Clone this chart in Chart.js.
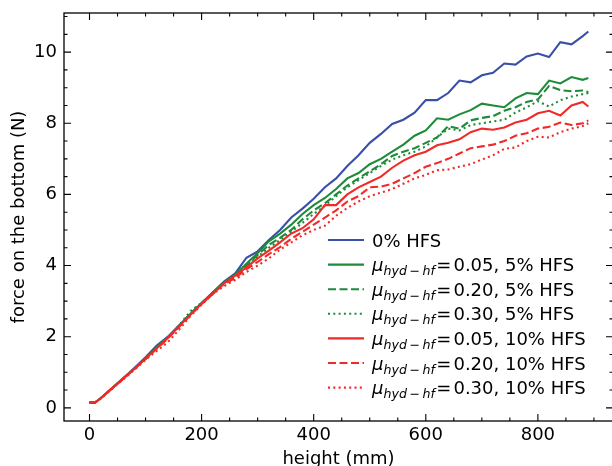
<!DOCTYPE html>
<html>
<head>
<meta charset="utf-8">
<script src="https://cdn.jsdelivr.net/npm/chart.js@4.4.0/dist/chart.umd.min.js"></script>
<style>
  html, body { margin: 0; padding: 0; background: #fff; overflow: hidden; }
  #wrap { position: relative; width: 614px; height: 476px; }
</style>
</head>
<body>
<div id="wrap"><canvas id="force-chart"></canvas></div>
<script>
/* force on the bottom vs height - 7 runs */

const heights = [0, 10, 20, 40, 60, 80, 100, 120, 140, 160, 180, 200, 220,
  240, 260, 280, 300, 320, 340, 360, 380, 400, 420, 440, 460, 480, 500, 520, 540,
  560, 580, 600, 620, 640, 660, 680, 700, 720, 740, 760, 780, 800, 820, 840, 860, 880, 890];

const hfs0 = [0.15, 0.15, 0.27, 0.55, 0.83, 1.12, 1.42, 1.75, 2.0, 2.32, 2.63, 2.95, 3.25,
  3.55, 3.78, 4.22, 4.4, 4.72, 5.0, 5.35, 5.6, 5.88, 6.2, 6.45, 6.8, 7.1, 7.45, 7.7, 7.98,
  8.1, 8.3, 8.65, 8.65, 8.85, 9.2, 9.15, 9.35, 9.42, 9.68, 9.65, 9.88, 9.96, 9.86, 10.28, 10.22, 10.45, 10.58];

const mu05hfs5 = [0.15, 0.15, 0.27, 0.55, 0.82, 1.1, 1.39, 1.7, 1.99, 2.3, 2.64, 2.94, 3.23,
  3.52, 3.75, 4.05, 4.35, 4.68, 4.9, 5.15, 5.45, 5.7, 5.9, 6.15, 6.45, 6.6, 6.85, 7.0, 7.2,
  7.4, 7.65, 7.8, 8.14, 8.1, 8.25, 8.37, 8.55, 8.5, 8.45, 8.7, 8.85, 8.82, 9.2, 9.12, 9.3, 9.22, 9.27];

const mu20hfs5 = [0.15, 0.15, 0.27, 0.55, 0.82, 1.1, 1.38, 1.69, 1.98, 2.3, 2.65, 2.94, 3.22,
  3.52, 3.72, 4.0, 4.3, 4.58, 4.78, 5.0, 5.3, 5.55, 5.75, 6.0, 6.25, 6.45, 6.65, 6.85, 7.08,
  7.2, 7.3, 7.45, 7.6, 7.92, 7.85, 8.08, 8.15, 8.2, 8.35, 8.45, 8.6, 8.67, 9.05, 8.93, 8.9, 8.92, 8.88];

const mu30hfs5 = [0.15, 0.15, 0.27, 0.55, 0.82, 1.1, 1.38, 1.68, 1.98, 2.32, 2.72, 2.95, 3.22,
  3.5, 3.68, 3.95, 4.25, 4.5, 4.72, 4.95, 5.2, 5.45, 5.68, 5.95, 6.2, 6.4, 6.6, 6.8, 6.98,
  7.1, 7.2, 7.35, 7.6, 7.85, 7.8, 7.95, 8.0, 8.05, 8.1, 8.3, 8.45, 8.62, 8.47, 8.65, 8.75, 8.82, 8.85];

const mu05hfs10 = [0.15, 0.15, 0.27, 0.55, 0.82, 1.1, 1.38, 1.68, 1.97, 2.29, 2.62, 2.93, 3.21,
  3.5, 3.72, 3.95, 4.2, 4.42, 4.65, 4.9, 5.05, 5.3, 5.7, 5.7, 6.0, 6.2, 6.35, 6.5, 6.75,
  6.95, 7.1, 7.2, 7.38, 7.45, 7.55, 7.75, 7.85, 7.82, 7.88, 8.02, 8.1, 8.28, 8.35, 8.22, 8.5, 8.6, 8.47];

const mu20hfs10 = [0.15, 0.15, 0.27, 0.54, 0.81, 1.09, 1.37, 1.66, 1.95, 2.28, 2.6, 2.92, 3.2,
  3.48, 3.65, 3.9, 4.1, 4.32, 4.52, 4.75, 4.95, 5.15, 5.35, 5.55, 5.8, 5.95, 6.2, 6.22, 6.3,
  6.45, 6.6, 6.78, 6.88, 7.0, 7.15, 7.3, 7.35, 7.4, 7.5, 7.65, 7.72, 7.85, 7.9, 8.02, 7.95, 8.0, 8.08];

const mu30hfs10 = [0.15, 0.15, 0.26, 0.53, 0.8, 1.07, 1.35, 1.6, 1.85, 2.2, 2.58, 2.9, 3.2,
  3.42, 3.6, 3.82, 4.0, 4.2, 4.45, 4.65, 4.85, 5.0, 5.12, 5.4, 5.62, 5.8, 5.95, 6.05, 6.15,
  6.3, 6.45, 6.55, 6.68, 6.7, 6.78, 6.85, 6.98, 7.1, 7.28, 7.32, 7.5, 7.62, 7.6, 7.75, 7.85, 7.92, 8.0];

const muValues = [null, '0.05', '0.20', '0.30', '0.05', '0.20', '0.30'];
const hfsValues = ['0%', '5%', '5%', '5%', '10%', '10%', '10%'];
const xTicks = [0, 200, 400, 600, 800];
const yTicks = [0, 2, 4, 6, 8, 10];

const BLUE = '#3a4fa8';
const GREEN = '#1e8a3a';
const RED = '#f02a28';
const SOLID = [];
const DASHED = [8, 3.5];
const DOTTED = [2, 3.3];
const FONT = 'DejaVu Sans';

const series = [
  { values: hfs0, color: BLUE, dash: SOLID },
  { values: mu05hfs5, color: GREEN, dash: SOLID },
  { values: mu20hfs5, color: GREEN, dash: DASHED },
  { values: mu30hfs5, color: GREEN, dash: DOTTED },
  { values: mu05hfs10, color: RED, dash: SOLID },
  { values: mu20hfs10, color: RED, dash: DASHED },
  { values: mu30hfs10, color: RED, dash: DOTTED }
];

function labelFor(i) {
  return muValues[i] === null
    ? `${hfsValues[i]} HFS`
    : `μ_hyd−hf = ${muValues[i]}, ${hfsValues[i]} HFS`;
}

// inward ticks on all four sides + frame, like the original plot
const frameTicks = {
  id: 'frameTicks',
  afterDraw(chart) {
    const { ctx, chartArea: a, scales: { x, y } } = chart;
    ctx.save();
    ctx.strokeStyle = '#000';
    ctx.lineWidth = 1.3;
    ctx.setLineDash([]);
    ctx.strokeRect(a.left, a.top, a.right - a.left, a.bottom - a.top);

    ctx.lineWidth = 1.1;
    ctx.beginPath();
    for (let v = 0; v <= x.max; v += 50) {
      const px = x.getPixelForValue(v);
      const len = v % 200 === 0 ? 7 : 3.5;
      ctx.moveTo(px, a.bottom); ctx.lineTo(px, a.bottom - len);
      ctx.moveTo(px, a.top); ctx.lineTo(px, a.top + len);
    }
    for (let k = 0; k * 0.5 <= y.max; k++) {
      const py = y.getPixelForValue(k * 0.5);
      const len = k % 4 === 0 ? 7 : 3.5;
      ctx.moveTo(a.left, py); ctx.lineTo(a.left + len, py);
      ctx.moveTo(a.right, py); ctx.lineTo(a.right - len, py);
    }
    ctx.stroke();
    ctx.restore();
  }
};

// legend with the mu subscript, drawn inside the plot
const mathLegend = {
  id: 'mathLegend',
  afterDraw(chart) {
    const { ctx, chartArea: a } = chart;
    const x0 = a.left + 264;
    const y0 = a.top + 227;
    const rowH = 24.6;
    ctx.save();
    chart.data.datasets.forEach((ds, i) => {
      const y = y0 + i * rowH;
      ctx.strokeStyle = ds.borderColor;
      ctx.lineWidth = 2.1;
      ctx.setLineDash(ds.borderDash);
      ctx.beginPath();
      ctx.moveTo(x0, y);
      ctx.lineTo(x0 + 36, y);
      ctx.stroke();

      const base = y + 6.5;
      let tx = x0 + 44;
      ctx.fillStyle = '#000';
      ctx.textBaseline = 'alphabetic';
      ctx.textAlign = 'left';
      if (muValues[i] === null) {
        ctx.font = `18px "${FONT}"`;
        ctx.fillText(`${hfsValues[i]} HFS`, tx, base);
        return;
      }
      ctx.font = `italic 18px "${FONT}"`;
      ctx.fillText('μ', tx, base);
      tx += ctx.measureText('μ').width;
      ctx.font = `italic 12.6px "${FONT}"`;
      ctx.fillText('hyd', tx, base + 4);
      tx += ctx.measureText('hyd').width + 2.5;
      ctx.font = `12.6px "${FONT}"`;
      ctx.fillText('−', tx, base + 4);
      tx += ctx.measureText('−').width + 2.5;
      ctx.font = `italic 12.6px "${FONT}"`;
      ctx.fillText('hf', tx, base + 4);
      tx += ctx.measureText('hf').width + 1.5;
      ctx.font = `18px "${FONT}"`;
      ctx.fillText('=', tx, base);
      tx += ctx.measureText('=').width + 2;
      ctx.fillText(`${muValues[i]}, ${hfsValues[i]} HFS`, tx, base);
    });
    ctx.restore();
  }
};

Chart.defaults.font.family = FONT;
Chart.defaults.color = '#000';

const datasets = series.map((s, i) => ({
  label: labelFor(i),
  data: heights.map((h, k) => ({ x: h, y: s.values[k] })),
  borderColor: s.color,
  borderDash: s.dash,
  borderWidth: 2.1,
  pointRadius: 0,
  tension: 0,
  fill: false,
  order: series.length - i
}));

new Chart(document.getElementById('force-chart'), {
  type: 'line',
  data: { datasets },
  plugins: [frameTicks, mathLegend],
  options: {
    responsive: true,
    maintainAspectRatio: false,
    animation: false,
    devicePixelRatio: 1,
    layout: { padding: { top: 13, right: 1, left: 0, bottom: 0 } },
    plugins: {
      legend: { display: false },
      tooltip: { enabled: false }
    },
    scales: {
      x: {
        type: 'linear',
        min: -45.5,
        max: 934,
        afterBuildTicks: (scale) => { scale.ticks = xTicks.map(v => ({ value: v })); },
        afterFit: (scale) => {
          scale.height = 55;
          scale.paddingLeft = 0;
          scale.paddingRight = 0;
        },
        ticks: {
          font: { size: 18 },
          padding: 4,
          maxRotation: 0,
          callback: (v) => String(v)
        },
        grid: { display: false, drawTicks: false },
        border: { display: false },
        title: {
          display: true,
          text: 'height (mm)',
          font: { size: 18 },
          padding: { top: 0, bottom: 6 }
        }
      },
      y: {
        min: -0.37,
        max: 11.1,
        afterBuildTicks: (scale) => { scale.ticks = yTicks.map(v => ({ value: v })); },
        afterFit: (scale) => {
          scale.width = 64;
          scale.paddingTop = 0;
          scale.paddingBottom = 0;
        },
        ticks: {
          font: { size: 18 },
          padding: 7,
          callback: (v) => String(v)
        },
        grid: { display: false, drawTicks: false },
        border: { display: false },
        title: {
          display: true,
          text: 'force on the bottom (N)',
          font: { size: 18 },
          padding: { top: 9, bottom: 0 }
        }
      }
    }
  }
});
</script>
</body>
</html>
